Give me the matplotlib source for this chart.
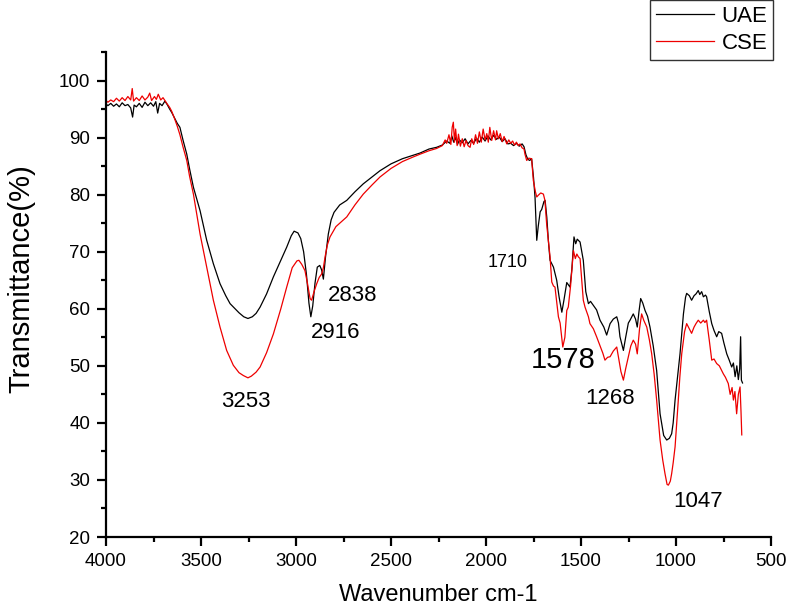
"""
FTIR spectra of UAE and CSE extracts (transmittance vs wavenumber).
"""

import matplotlib
matplotlib.use("Agg")
import matplotlib.pyplot as plt
from matplotlib.ticker import MultipleLocator

plt.rcParams["font.family"] = ["Liberation Sans", "DejaVu Sans"]


# Spectra (wavenumber cm-1, transmittance %)

uae_wn = [
    4000, 3990, 3975, 3960, 3945, 3930, 3915, 3900, 3885, 3870, 3860, 3852,
    3840, 3825, 3810, 3795, 3780, 3765, 3750, 3738, 3728, 3718, 3705, 3690,
    3678, 3665, 3654, 3640, 3625, 3611, 3595, 3575, 3560, 3540, 3505, 3470,
    3435, 3400, 3370, 3347, 3300, 3275, 3253, 3230, 3210, 3189, 3155, 3119,
    3080, 3049, 3025, 3010, 2990, 2975, 2960, 2945, 2932, 2922, 2912, 2900,
    2888, 2875, 2865, 2856, 2845, 2830, 2815, 2800, 2770, 2733, 2690, 2646,
    2600, 2558, 2500, 2440, 2384, 2347, 2300, 2260, 2230, 2207, 2190, 2180,
    2170, 2160, 2150, 2140, 2125, 2110, 2095, 2080, 2065, 2050, 2035, 2020,
    2005, 1990, 1975, 1960, 1945, 1930, 1915, 1900, 1885, 1870, 1855, 1840,
    1825, 1810, 1800, 1790, 1780, 1770, 1760, 1750, 1742, 1733, 1725, 1715,
    1707, 1695, 1689, 1680, 1672, 1663, 1654, 1645, 1628, 1615, 1601, 1590,
    1575, 1558, 1548, 1537, 1528, 1520, 1505, 1488, 1475, 1461, 1450, 1435,
    1418, 1400, 1380, 1365, 1355, 1347, 1330, 1312, 1303, 1295, 1277, 1265,
    1251, 1242, 1225, 1213, 1204, 1195, 1186, 1175, 1163, 1150, 1137, 1120,
    1102, 1084, 1065, 1049, 1035, 1023, 1015, 1005, 992, 979, 970, 961,
    950, 944, 930, 918, 905, 895, 883, 875, 865, 856, 845, 839,
    825, 812, 800, 786, 775, 760, 748, 733, 720, 707, 698, 689,
    680, 672, 665, 660, 656, 650,
]
uae_t = [
    95.9, 95.6, 96.0, 95.5, 95.9, 95.4, 96.1, 95.6, 95.8, 95.2, 93.6, 95.7,
    95.4, 96.0, 95.3, 96.2, 95.6, 96.1, 95.5, 96.3, 94.3, 96.0, 95.6, 96.4,
    95.8, 95.0, 94.4, 93.5, 92.5, 91.8, 89.6, 87.1, 84.5, 81.3, 77.2, 72.0,
    67.9, 64.4, 62.3, 60.9, 59.3, 58.6, 58.3, 58.6, 59.2, 60.3, 62.6, 65.6,
    68.5, 70.8, 72.8, 73.6, 73.3, 72.3, 70.0, 66.0, 61.0, 58.6, 60.5, 64.5,
    67.3, 67.6, 66.8, 65.2, 69.0, 73.1, 75.6, 76.9, 78.2, 79.0, 80.5, 81.9,
    83.1, 84.2, 85.4, 86.3, 86.9, 87.3, 88.0, 88.3, 88.7, 89.4, 89.0, 90.3,
    89.2, 90.0, 88.8, 89.6, 89.1, 89.8, 88.9, 89.5, 89.0, 89.9, 89.2, 90.1,
    89.4, 90.3, 89.6, 90.4, 89.7, 90.1, 89.3, 89.8, 88.9, 89.0, 88.6, 89.0,
    88.5, 88.9, 88.4, 87.0, 86.2, 86.0, 86.3, 83.0, 79.5, 72.0, 74.5, 77.0,
    77.4, 78.8, 79.0, 76.0, 72.0, 68.5, 67.9, 67.3, 65.0, 62.0, 59.4, 61.5,
    64.6, 63.8, 67.0, 72.6, 71.4, 72.2, 71.7, 68.5, 63.0, 60.9, 61.3, 60.6,
    59.8, 58.0, 56.8, 55.4, 56.5, 57.4, 58.2, 58.6, 57.5, 55.1, 52.7, 55.0,
    57.5, 58.0, 59.1, 58.2, 56.8, 59.5, 61.8, 61.0, 59.7, 58.7, 56.8, 53.5,
    49.2, 41.6, 37.8, 37.0, 37.3, 38.1, 40.0, 44.0, 48.0, 52.1, 55.5, 59.1,
    62.0, 62.7, 62.3, 61.5, 62.3, 62.6, 63.2, 62.5, 63.0, 62.1, 62.4, 62.1,
    59.5, 57.4, 56.2, 55.1, 56.0, 55.7, 54.0, 52.1, 51.0, 49.8, 50.5, 48.1,
    50.0, 47.6, 49.5, 55.1, 47.5, 47.0,
]

cse_wn = [
    4000, 3990, 3975, 3960, 3945, 3930, 3915, 3900, 3885, 3870, 3862, 3855,
    3840, 3825, 3810, 3795, 3780, 3770, 3760, 3745, 3735, 3725, 3712, 3700,
    3690, 3678, 3665, 3654, 3640, 3625, 3611, 3595, 3575, 3560, 3540, 3505,
    3470, 3435, 3400, 3365, 3330, 3300, 3277, 3253, 3235, 3210, 3189, 3155,
    3119, 3080, 3049, 3020, 2995, 2985, 2970, 2953, 2940, 2926, 2918, 2905,
    2891, 2878, 2865, 2856, 2847, 2835, 2821, 2790, 2760, 2733, 2690, 2646,
    2600, 2558, 2500, 2440, 2384, 2347, 2300, 2260, 2230, 2215, 2207, 2195,
    2185, 2178, 2172, 2166, 2160, 2152, 2145, 2135, 2125, 2115, 2105, 2095,
    2084, 2075, 2065, 2055, 2045, 2035, 2025, 2015, 2005, 1996, 1988, 1980,
    1970, 1960, 1950, 1944, 1935, 1925, 1915, 1905, 1891, 1880, 1870, 1860,
    1850, 1840, 1830, 1821, 1810, 1800, 1795, 1786, 1775, 1760, 1751, 1740,
    1733, 1725, 1712, 1698, 1690, 1681, 1672, 1663, 1654, 1645, 1637, 1619,
    1610, 1596, 1585, 1575, 1567, 1555, 1540, 1530, 1522, 1514, 1505, 1488,
    1479, 1461, 1453, 1435, 1418, 1400, 1385, 1374, 1360, 1347, 1330, 1312,
    1300, 1290, 1277, 1265, 1251, 1238, 1225, 1213, 1204, 1192, 1181, 1170,
    1154, 1140, 1128, 1115, 1102, 1084, 1070, 1058, 1047, 1040, 1030, 1023,
    1015, 1005, 995, 988, 980, 970, 955, 944, 930, 918, 905, 895,
    883, 870, 856, 848, 839, 825, 812, 800, 786, 772, 760, 751,
    740, 725, 715, 705, 698, 690, 681, 672, 663, 658, 654,
]
cse_t = [
    96.5, 96.2, 96.6, 96.3, 96.9, 96.4, 97.0, 96.5, 97.2, 96.6, 98.6, 96.4,
    97.0, 96.5, 97.3, 96.6, 97.1, 97.8, 96.5, 97.2, 96.7, 97.6, 96.6, 97.0,
    96.5, 95.9, 95.3, 94.6, 93.4, 92.0, 90.5, 88.4, 86.0, 83.2, 80.1, 73.1,
    67.3, 61.5, 56.8, 52.7, 50.1, 48.8, 48.3, 47.9, 48.2, 48.9, 49.8, 52.3,
    55.6, 60.0, 63.8, 67.2, 68.4, 68.5, 67.8, 66.7, 64.5, 61.8, 61.5, 63.0,
    64.4, 65.5, 66.1, 67.2, 69.1, 71.2, 72.6, 74.4, 75.3, 76.1, 78.2, 80.1,
    81.7, 83.1, 84.6, 85.8, 86.6, 87.1, 87.7, 88.1, 88.6, 89.6, 89.0, 90.5,
    88.8, 91.8, 92.7, 89.2, 91.5, 88.6, 90.6, 88.5, 89.8, 88.4, 89.5, 88.6,
    88.3, 89.8, 88.8, 90.5, 89.0, 91.0, 89.2, 91.5, 89.6, 90.7, 89.2, 91.8,
    89.5, 91.2, 89.6, 91.2, 89.8, 90.7, 89.3, 90.2, 88.9, 89.6, 89.0, 89.4,
    88.7, 89.2, 88.6, 88.9, 88.2, 88.0, 87.1, 86.0, 86.4, 86.3, 82.5, 80.5,
    79.6, 79.9, 80.3, 80.1, 79.0, 74.9, 72.0, 69.1, 64.7, 64.0, 63.8, 58.6,
    57.5, 53.3, 55.0, 59.7, 60.3, 64.0, 70.2, 68.8, 69.6, 69.1, 68.8, 61.5,
    60.3, 58.6, 57.4, 56.5, 55.1, 53.5, 52.2, 51.0, 51.5, 51.6, 52.6, 53.3,
    51.0, 49.0, 47.5, 49.5, 51.6, 53.5, 54.5, 53.8, 52.1, 56.5, 59.1, 58.0,
    56.8, 54.5, 52.1, 48.5, 44.0, 37.0, 33.5, 31.1, 29.2, 29.1, 29.8, 31.1,
    33.0, 35.8, 40.5, 44.0, 48.0, 52.1, 56.0, 57.4, 56.5, 55.7, 56.8, 57.4,
    58.0, 57.5, 58.0, 57.6, 58.0, 54.5, 51.0, 51.2, 50.4, 50.0, 49.2, 48.6,
    48.0, 46.9, 45.0, 46.2, 44.0, 45.5, 41.6, 45.0, 46.3, 42.0, 37.9,
]

# peak labels: text, wavenumber, transmittance, font size
peak_labels = ["3253", "2916", "2838", "1710", "1578", "1268", "1047"]
peak_wn = [3263, 2789, 2700, 1884, 1595, 1347, 884]
peak_t = [43.8, 55.9, 62.4, 68.1, 51.0, 44.3, 26.3]
peak_size = [16, 16, 16, 13, 21, 16, 16]


# Figure

fig = plt.figure(figsize=(7.87, 6.15), dpi=100)
ax = fig.add_axes([0.1347, 0.1268, 0.845, 0.7886])

ax.plot(uae_wn, uae_t, color="black", lw=0.9, label="UAE")
ax.plot(cse_wn, cse_t, color="#ee0000", lw=0.9, label="CSE")

for txt, w, t, fs in zip(peak_labels, peak_wn, peak_t, peak_size):
    ax.text(w, t, txt, fontsize=fs, ha="center", va="center")

ax.set_xlim(4000, 500)
ax.set_ylim(20, 105)
ax.xaxis.set_major_locator(MultipleLocator(500))
ax.xaxis.set_minor_locator(MultipleLocator(250))
ax.yaxis.set_major_locator(MultipleLocator(10))
ax.yaxis.set_minor_locator(MultipleLocator(5))

ax.spines["top"].set_visible(False)
ax.spines["right"].set_visible(False)
for s in ("left", "bottom"):
    ax.spines[s].set_linewidth(1.6)

ax.tick_params(which="major", direction="out", length=6.5, width=1.6,
               labelsize=13.5, pad=5)
ax.tick_params(which="minor", direction="out", length=3.5, width=1.6)

ax.set_xlabel("Wavenumber cm-1", fontsize=17, labelpad=10)
ax.set_ylabel("Transmittance(%)", fontsize=21)
ax.yaxis.set_label_coords(-0.106, 0.532)

leg = fig.legend(loc="upper right", bbox_to_anchor=(773 / 787, 1.0),
                 fontsize=16, frameon=True, fancybox=False,
                 handlelength=2.6, handletextpad=0.35, borderpad=0.25,
                 labelspacing=0.3, borderaxespad=0)
leg.get_frame().set_edgecolor("black")
leg.get_frame().set_linewidth(1.0)

fig.savefig("out.png", dpi=100)
print("saved out.png")
